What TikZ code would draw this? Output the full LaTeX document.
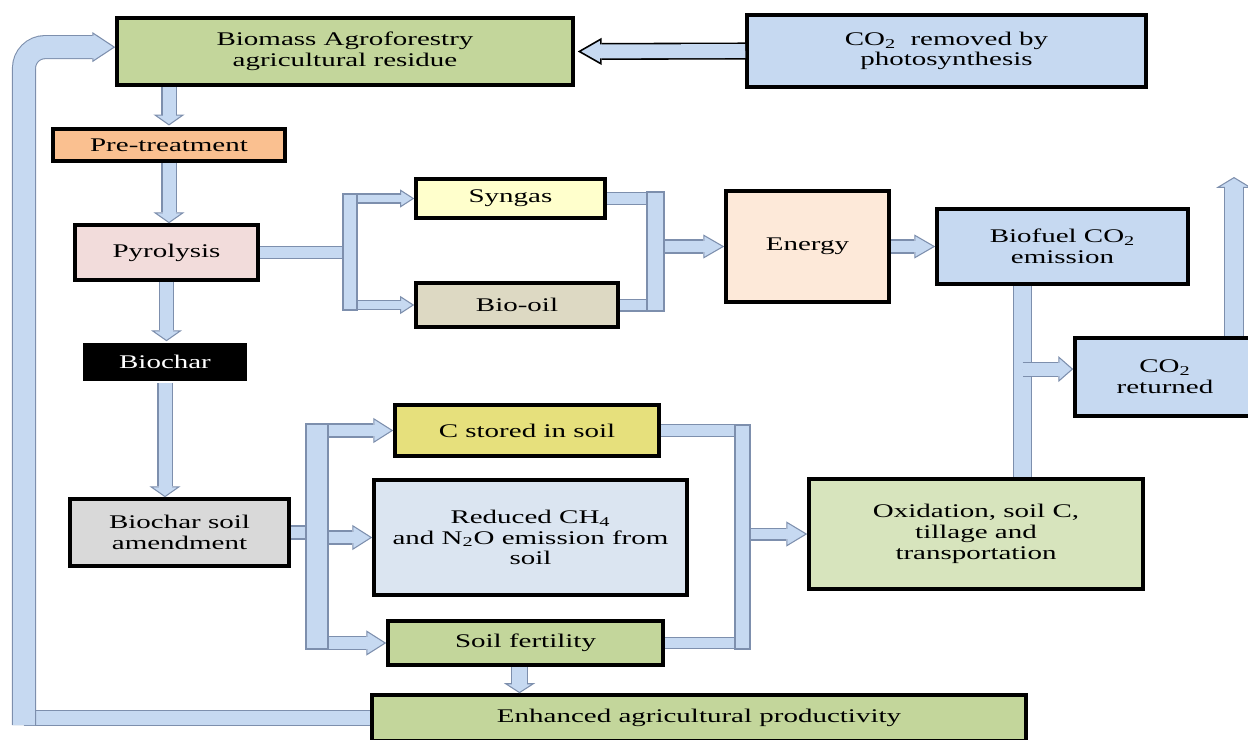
\documentclass[tikz,border=0pt]{standalone}
\usepackage{fontspec}
\setmainfont{Liberation Serif}[FakeStretch=1.5]
\usetikzlibrary{arrows.meta,calc}

\definecolor{greenbox}{HTML}{C3D69B}
\definecolor{bluebox}{HTML}{C6D9F1}
\definecolor{orangebox}{HTML}{FAC090}
\definecolor{pinkbox}{HTML}{F2DCDB}
\definecolor{yellowbox}{HTML}{FFFFCC}
\definecolor{oilbox}{HTML}{DDD9C3}
\definecolor{peachbox}{HTML}{FDE9D9}
\definecolor{khakibox}{HTML}{E6E07C}
\definecolor{paleblue}{HTML}{DBE5F1}
\definecolor{greybox}{HTML}{D9D9D9}
\definecolor{palegreen}{HTML}{D7E4BD}
\definecolor{arrowfill}{HTML}{C6D9F1}
\definecolor{arrowedge}{HTML}{7D8FAD}

\begin{document}
\begin{tikzpicture}[x=0.02cm, y=-0.02cm, font=\fontsize{11}{11.8}\selectfont,
  stage/.style={draw=black, line width=2pt, inner sep=0pt, align=center},
  wh/.style 2 args={minimum width=#1*0.02cm, minimum height=#2*0.02cm},
  flow/.style n args={3}{draw=arrowedge, line width=0.6pt,
    -{Triangle[width=#2, length=#3, fill=arrowfill]},
    preaction={draw=arrowedge, -, line width=#1+1.2pt, shorten >=#3},
    postaction={draw=arrowfill, -, line width=#1, shorten >=#3-1pt}},
  flowdk/.style={draw=black, line width=0.9pt,
    -{Triangle[width=15.3pt, length=13.6pt, fill=arrowfill]},
    preaction={draw=black, -, line width=9.7pt, shorten >=13.6pt},
    postaction={draw=arrowfill, -, line width=7.9pt, shorten >=12.6pt}},
  pipe/.style={draw=arrowfill, line width=#1,
    preaction={draw=arrowedge, line width=#1+1.2pt}},
  bar/.style={draw=arrowedge, fill=arrowfill, line width=0.6pt}]
\useasboundingbox (0,0) rectangle (1248,740);
\clip (0,0) rectangle (1248,740);

% boxes
\node[stage, fill=greenbox, wh={456}{67}] (bio) at (345,51.5) {Biomass Agroforestry\\agricultural residue};
\node[stage, fill=bluebox, wh={399}{72}] (co2in) at (946.5,51) {CO\textsubscript{2}\ \ removed by\\photosynthesis};
\node[stage, fill=orangebox, wh={232}{32}] (pre) at (169,145) {Pre-treatment};
\node[stage, fill=pinkbox, wh={183}{55}] (pyr) at (166.5,252.5) {Pyrolysis};
\node[stage, draw=none, fill=black, text=white, wh={164}{38}] (char) at (165,362) {Biochar};
\node[stage, fill=yellowbox, wh={189}{39}] (syn) at (510.5,198.5) {Syngas};
\node[stage, fill=oilbox, wh={202}{44}] (oil) at (517,305) {Bio-oil};
\node[stage, fill=peachbox, wh={163}{111}] (energy) at (807.5,246.5) {Energy};
\node[stage, fill=bluebox, wh={251}{75}] (fuel) at (1062.5,246.5) {Biofuel CO\textsubscript{2}\\emission};
\node[stage, fill=bluebox, wh={180}{78}] (ret) at (1165,377) {CO\textsubscript{2}\\returned};
\node[stage, fill=greybox, wh={219}{67}] (amend) at (179.5,532.5) {Biochar soil\\amendment};
\node[stage, fill=khakibox, wh={264}{51}] (cstore) at (527,430.5) {C stored in soil};
\node[stage, fill=paleblue, wh={313}{115}] (ghg) at (530.5,537.5) {Reduced CH\textsubscript{4}\\and N\textsubscript{2}O emission from\\soil};
\node[stage, fill=greenbox, wh={275}{44}] (fert) at (525.5,643) {Soil fertility};
\node[stage, fill=palegreen, wh={334}{110}] (oxid) at (976,534) {Oxidation, soil C,\\tillage and\\transportation};
\node[stage, fill=greenbox, wh={654}{46}] (prod) at (699,718) {Enhanced agricultural productivity};

% junction points
\coordinate (splitA) at (350,253);
\coordinate (joinB) at (655.5,250);
\coordinate (dropC) at (1022.5,380);
\coordinate (splitD) at (317,535);
\coordinate (joinE) at (742.5,535);
\coordinate (ventup) at (1234,177);
\coordinate (loopx) at (24,725);
\coordinate (retin) at ([yshift=4.5pt]ret.west);

% stubs into the bars
\draw[pipe=6.2pt] (pyr.east) -- (splitA |- pyr.east);
\draw[pipe=6.2pt] (syn.east) -- (joinB |- syn.east);
\draw[pipe=6.2pt] (oil.east) -- (joinB |- oil.east);
\draw[pipe=6.8pt] (amend.east) -- (splitD |- amend.east);
\draw[pipe=5.7pt] (cstore.east) -- (joinE |- cstore.east);
\draw[pipe=5.7pt] (fert.east) -- (joinE |- fert.east);
\draw[pipe=9.6pt] (fuel.south -| dropC) -- (oxid.north -| dropC);
\draw[pipe=7.9pt] (prod.west) -- (loopx |- prod.west);

% main chain on the left
\draw[flowdk] (co2in.west) -- ([xshift=1.7pt]bio.east);
\draw[flow={7.4pt}{17.6pt}{6.2pt}] (pre.north |- bio.south) -- ([yshift=1pt]pre.north);
\draw[flow={7.4pt}{17.6pt}{6.2pt}] (pre.south) -- (pre.south |- pyr.north);
\draw[flow={7.4pt}{17.6pt}{6.2pt}] (pyr.south) -- (pyr.south |- char.north);
\draw[flow={7.4pt}{17.6pt}{6.2pt}] (char.south) -- (char.south |- amend.north);

% pyrolysis products and energy
\draw[flow={4.5pt}{10.2pt}{8pt}] (splitA |- syn.west) -- (syn.west);
\draw[flow={4.5pt}{10.2pt}{8pt}] (splitA |- oil.west) -- (oil.west);
\draw[flow={6.8pt}{13.6pt}{11.9pt}] (joinB |- energy.west) -- (energy.west);
\draw[flow={6.8pt}{13.6pt}{11.9pt}] (energy.east) -- (fuel.west);
\draw[flow={7.4pt}{14.7pt}{8.5pt}] (dropC |- retin) -- (retin);
\draw[flow={10.2pt}{20.4pt}{6.2pt}] (ret.north -| ventup) -- (ventup);

% soil branch
\draw[flow={6.8pt}{14.2pt}{11.3pt}] (splitD |- cstore.west) -- (cstore.west);
\draw[flow={6.8pt}{14.2pt}{11.3pt}] (splitD |- ghg.west) -- (ghg.west);
\draw[flow={6.8pt}{14.2pt}{11.3pt}] (splitD |- fert.west) -- (fert.west);
\draw[flow={6.2pt}{14.2pt}{11.9pt}] (joinE |- oxid.west) -- (oxid.west);
\draw[flow={8.5pt}{17.6pt}{5.7pt}] ([xshift=-3.4pt]fert.south) -- ([xshift=-3.4pt]fert.south |- prod.north);

% loop back to the biomass
\draw[flow={12.5pt}{17pt}{13pt}, rounded corners=12pt] (loopx) |- ([yshift=2.5pt]bio.west);

% bars
\draw[bar] (343,194) rectangle (357,310);
\draw[bar] (647,192) rectangle (664,311);
\draw[bar] (306,424) rectangle (328,649);
\draw[bar] (735,425) rectangle (750,649);
\end{tikzpicture}
\end{document}
